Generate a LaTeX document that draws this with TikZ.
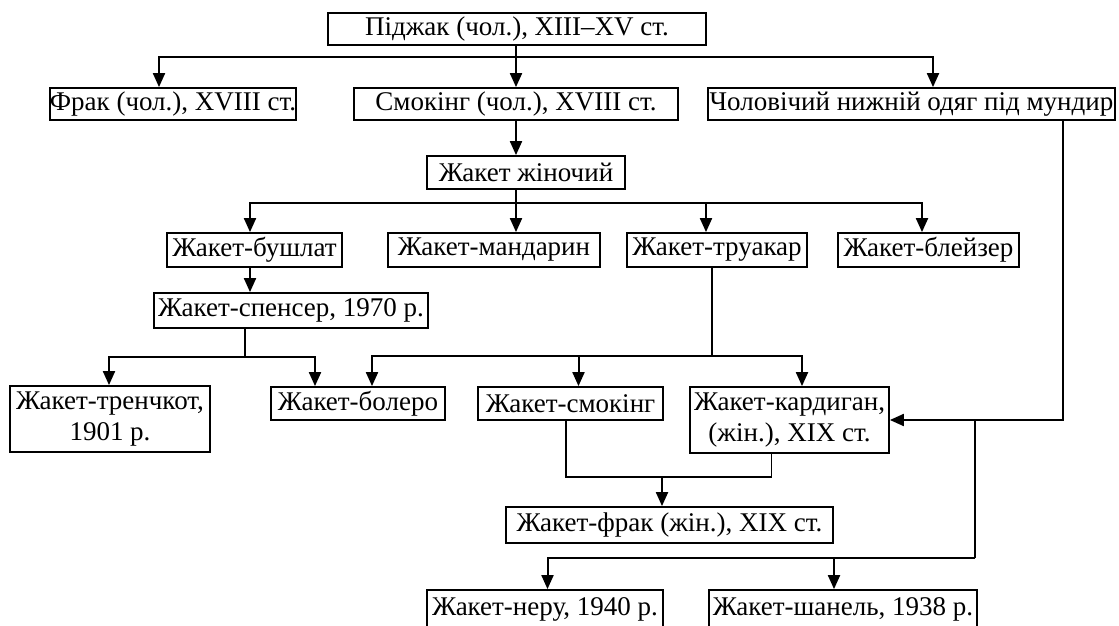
\documentclass[tikz,border=0pt]{standalone}
\usepackage{fontspec}
\setmainfont{Liberation Serif}
\usetikzlibrary{arrows.meta}

\tikzset{
  item/.style={draw, line width=1.8pt, inner sep=0pt, align=center,
    font=\fontsize{27}{31}\selectfont, minimum height=33pt},
  link/.style={line width=2pt},
  thinlink/.style={line width=1.3pt},
  arr/.style={link, -{Triangle[length=14pt,width=12pt]}},
}

\begin{document}
\begin{tikzpicture}[x=1pt,y=-1pt]
\useasboundingbox (0,0) rectangle (1119,626);

% boxes
\node[item, minimum width=378pt, minimum height=32pt] (top)   at (517,29)    {Піджак (чол.), XIII–XV ст.};
\node[item, minimum width=244pt, minimum height=32pt] (frak)  at (173,104)   {Фрак (чол.), XVIII ст.};
\node[item, minimum width=324pt, minimum height=32pt] (smk)   at (516,104)   {Смокінг (чол.), XVIII ст.};
\node[item, minimum width=407pt, minimum height=32pt] (chol)  at (911.5,104) {Чоловічий нижній одяг під мундир};
\node[item, minimum width=198pt] (zhin)  at (526,172.5) {Жакет жіночий};
\node[item, minimum width=175pt, minimum height=34pt] (bush)  at (254.5,250) {Жакет-бушлат};
\node[item, minimum width=212pt, minimum height=34pt] (mand)  at (494,250)   {Жакет-мандарин};
\node[item, minimum width=180pt, minimum height=34pt] (truak) at (717,250)   {Жакет-труакар};
\node[item, minimum width=181pt, minimum height=34pt] (bleiz) at (928.5,250) {Жакет-блейзер};
\node[item, minimum width=274pt, minimum height=35pt] (spen)  at (291,310.5) {Жакет-спенсер, 1970 р.};
\node[item, minimum width=200pt, minimum height=66pt] (tren)  at (110,419)   {Жакет-тренчкот,\\1901 р.};
\node[item, minimum width=174pt] (bol)   at (358,403.5) {Жакет-болеро};
\node[item, minimum width=185pt] (jsmk)  at (570.5,403.5) {Жакет-смокінг};
\node[item, minimum width=199pt, minimum height=66pt] (kard)  at (789.5,420) {Жакет-кардиган,\\(жін.), XIX ст.};
\node[item, minimum width=327pt, minimum height=36pt] (jfrak) at (669.5,525) {Жакет-фрак (жін.), XIX ст.};
\node[item, minimum width=236pt, minimum height=38pt] (neru)  at (545,609)   {Жакет-неру, 1940 р.};
\node[item, minimum width=268pt, minimum height=38pt] (shan)  at (843,609)   {Жакет-шанель, 1938 р.};

% branch points
\coordinate (b1) at (516,57);
\coordinate (b2) at (516,203);
\coordinate (b3) at (245,357);
\coordinate (b4) at (712,356);
\coordinate (b5) at (662,477);
\coordinate (b6) at (975,420);
\coordinate (b7) at (975,558);

% Піджак
\draw[arr] (top.south -| smk.north) -- (smk.north);
\draw[arr] (b1) -| ([xshift=-14pt]frak.north);
\draw[arr] (b1) -| ([xshift=21.5pt]chol.north);

% Смокінг -> Жакет жіночий
\draw[arr] (smk.south) -- (smk.south |- zhin.north);

% Жакет жіночий
\draw[link] (zhin.south -| b2) -- (b2);
\draw[arr] (b2) -| ([xshift=-4.5pt]bush.north);
\draw[arr] (b2) -- (b2 |- mand.north);
\draw[arr] (b2) -| ([xshift=-11pt]truak.north);
\draw[arr] (b2) -| ([xshift=-6.5pt]bleiz.north);

% Жакет-бушлат -> Жакет-спенсер
\draw[arr] ([xshift=-4.5pt]bush.south) -- ([xshift=-4.5pt]bush.south |- spen.north);

% Жакет-спенсер
\draw[thinlink] ([xshift=-46pt]spen.south) -- (b3);
\draw[arr] (b3) -| ([xshift=-1pt]tren.north);
\draw[arr] (b3) -| ([xshift=-43pt]bol.north);

% Жакет-труакар
\draw[thinlink] ([xshift=-5pt]truak.south) -- (b4);
\draw[arr] (b4) -| ([xshift=14pt]bol.north);
\draw[arr] (b4) -| ([xshift=8pt]jsmk.north);
\draw[arr] (b4) -| ([xshift=12.5pt]kard.north);

% Жакет-смокінг, Жакет-кардиган -> Жакет-фрак
\draw[thinlink] ([xshift=-4.5pt]jsmk.south) |- ([xshift=-18pt]kard.south |- b5) -- ([xshift=-18pt]kard.south);
\draw[arr] (b5) -- (b5 |- jfrak.north);

% Чоловічий нижній одяг -> Жакет-кардиган, Жакет-неру, Жакет-шанель
\draw[arr] ([xshift=151.5pt]chol.south) |- (kard.east);
\draw[link] (b6) -- (b7);
\draw[arr] (b7) -| ([xshift=2.5pt]neru.north);
\draw[arr] (b7) -| ([xshift=-9pt]shan.north);
\end{tikzpicture}
\end{document}
